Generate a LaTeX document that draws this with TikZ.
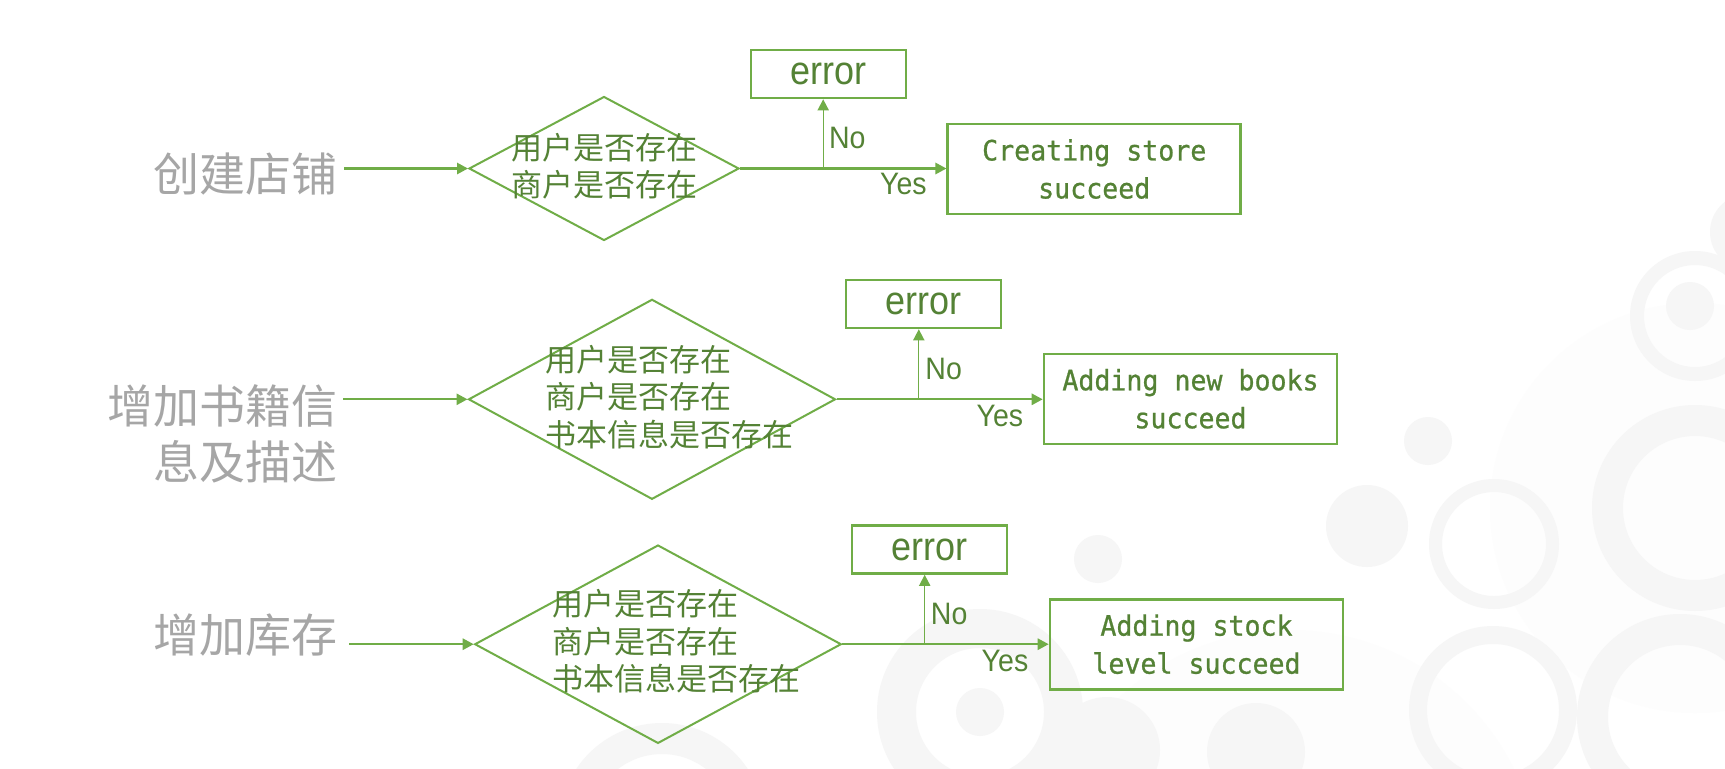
\documentclass[tikz,border=0pt]{standalone}
\usepackage{fontspec}
\setmainfont{Liberation Sans}
\newfontfamily\cjk{Noto Sans CJK SC}
\newfontfamily\monof[FakeStretch=0.95,FakeBold=0.8]{DejaVu Sans Mono}
\newfontfamily\errf[FakeStretch=0.9]{Liberation Sans}
\newfontfamily\ynf[FakeStretch=0.92]{Liberation Sans}
\usetikzlibrary{shapes.geometric,arrows.meta}
\definecolor{lg}{HTML}{70AD47}
\definecolor{dg}{HTML}{548235}
\definecolor{lab}{HTML}{A6A6A6}
\definecolor{bgA}{HTML}{F6F6F6}
\definecolor{bgB}{HTML}{FDFDFD}
\begin{document}
\begin{tikzpicture}[x=0.5pt,y=-0.5pt,
  conn/.style={draw=lg, line width=1.1pt},
  arr/.style={conn, -{Triangle[length=5.5pt,width=5.6pt]}},
  arrthin/.style={draw=lg, line width=0.6pt, -{Triangle[length=5.5pt,width=5.6pt]}},
  dia/.style={diamond, draw=lg, line width=1pt, inner sep=0pt},
  okbox/.style={rectangle, draw=lg, line width=1.3pt, inner sep=0pt, align=center, text=dg,
    minimum width=146.5pt, minimum height=45pt, font=\monof\fontsize{14}{19}\selectfont},
  errbox/.style={rectangle, draw=lg, line width=1.3pt, inner sep=0pt, text=dg,
    minimum width=77.5pt, minimum height=24pt, font=\errf\fontsize{20}{24}\selectfont},
  lbl/.style={text=lab, inner sep=0pt, align=right, font=\cjk\fontsize{23}{28}\selectfont},
  dtext/.style={text=dg, inner sep=0pt, align=left, anchor=west, font=\cjk\fontsize{15.5}{18.7}\selectfont},
  yn/.style={text=dg, inner sep=0pt, font=\ynf\fontsize{15.5}{18}\selectfont},
  ring/.style={fill=bgA, even odd rule}
]
\useasboundingbox (0,0) rectangle (1725,768);
\fill[white] (0,0) rectangle (1725,768);
% background decoration
\fill[bgB] (1695,508) circle (205);
\fill[bgB] (1290,880) circle (250);
\fill[ring] (1695,508) circle (103) circle (72);
\fill[ring] (1695,316) circle (65) circle (51);
\fill[bgA] (1690,306) circle (24);
\fill[bgA] (1428,441) circle (24);
\fill[bgA] (1367,526) circle (41);
\fill[ring] (1494,544) circle (65) circle (52);
\fill[ring] (1493,710) circle (84) circle (66);
\fill[ring] (1680,717) circle (103) circle (72);
\fill[ring] (980,712) circle (103) circle (64);
\fill[bgA] (980,712) circle (24);
\fill[bgA] (1098,559) circle (24);
\fill[bgA] (1107,750) circle (53);
\fill[bgA] (1256,752) circle (49);
\fill[ring] (662,826) circle (103) circle (72);
\fill[bgA] (1748,232) circle (38);

% ---------- row 1
\node[lbl, anchor=east] (l1) at (338,174) {创建店铺};
\node[dia, minimum width=135pt, minimum height=72pt] (d1) at (604,168.5) {};
\node[dtext] (t1) at (511,166) {用户是否存在\\商户是否存在};
\node[errbox] (e1) at (828.5,74) {error};
\node[okbox] (b1) at (1094.25,169) {Creating store\\succeed};
\coordinate (s1) at (344,0);
\coordinate (j1) at (823.2,168.5);
\draw[arr] (s1 |- d1.west) -- (d1.west);
\draw[arr] (d1.east) -- (d1.east -| b1.west);
\draw[arrthin] (j1) -- (j1 |- e1.south);
\node[yn, anchor=west] (n1) at (828.6,138) {No};
\node[yn] (y1) at (903.4,184) {Yes};

% ---------- row 2
\node[lbl, anchor=east] (l2) at (338,434) {增加书籍信\\息及描述};
\node[dia, minimum width=183.5pt, minimum height=100pt] (d2) at (652,399.3) {};
\node[dtext] (t2) at (545,397) {用户是否存在\\商户是否存在\\书本信息是否存在};
\node[errbox] (e2) at (923.5,304) {error};
\node[okbox] (b2) at (1190.5,398.8) {Adding new books\\succeed};
\coordinate (s2) at (343,0);
\coordinate (j2) at (918.8,399.3);
\draw[arr] (s2 |- d2.west) -- (d2.west);
\draw[arr] (d2.east) -- (d2.east -| b2.west);
\draw[arrthin] (j2) -- (j2 |- e2.south);
\node[yn, anchor=west] (n2) at (925,369) {No};
\node[yn] (y2) at (999.9,415.5) {Yes};

% ---------- row 3
\node[lbl, anchor=east] (l3) at (338,635) {增加库存};
\node[dia, minimum width=183.3pt, minimum height=99.2pt] (d3) at (658,644.2) {};
\node[dtext] (t3) at (551.7,641.5) {用户是否存在\\商户是否存在\\书本信息是否存在};
\node[errbox] (e3) at (929.5,549.5) {error};
\node[okbox] (b3) at (1196.5,644.2) {Adding stock\\level succeed};
\coordinate (s3) at (349,0);
\coordinate (j3) at (924.7,644.2);
\draw[arr] (s3 |- d3.west) -- (d3.west);
\draw[arr] (d3.east) -- (d3.east -| b3.west);
\draw[arrthin] (j3) -- (j3 |- e3.south);
\node[yn, anchor=west] (n3) at (930.5,614) {No};
\node[yn] (y3) at (1005,661) {Yes};
\end{tikzpicture}
\end{document}
